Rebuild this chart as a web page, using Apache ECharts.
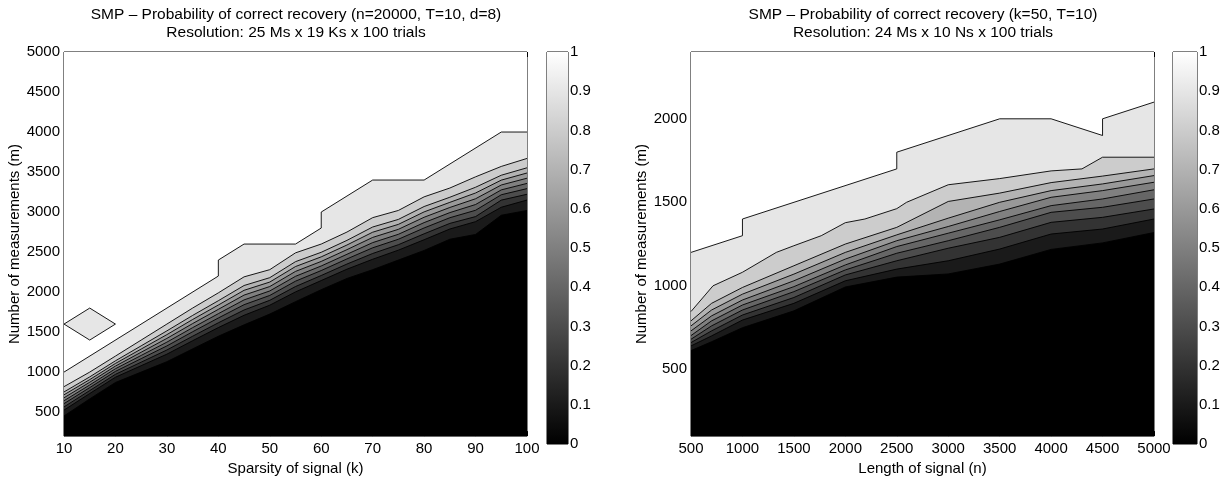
<!DOCTYPE html>
<html>
<head>
<meta charset="utf-8">
<script src="https://cdn.jsdelivr.net/npm/echarts@6/dist/echarts.min.js"></script>
<style>
  html, body { margin: 0; padding: 0; background: #fff; }
  #container { width: 1229px; height: 481px; }
</style>
</head>
<body>
<div id="container"></div>
<script>
// x values of the left sweep, and contour vertices of the right one
var sparsityK = [10, 15, 20, 25, 30, 35, 40, 45, 50, 55, 60, 65, 70, 75, 80, 85, 90, 95, 100];
var rightVertexN = [500, 700, 1000, 1500, 2000, 2500, 3000, 3500, 4000, 4500, 5000];

// contour levels (probability)
var levels = [0.1, 0.2, 0.3, 0.4, 0.5, 0.6, 0.7, 0.8, 0.9];

// left chart: m where the probability crosses each level, one value per k
var leftM01 = [452, 665, 870, 1000, 1130, 1290, 1448, 1590, 1725, 1880, 2030, 2170, 2280, 2400, 2520, 2660, 2720, 2960, 3020];
var leftM02 = [525, 732, 936, 1080, 1224, 1392, 1556, 1710, 1836, 2002, 2144, 2286, 2410, 2524, 2654, 2788, 2880, 3060, 3150];
var leftM03 = [565, 769, 972, 1124, 1276, 1448, 1616, 1776, 1897, 2069, 2207, 2350, 2482, 2592, 2728, 2858, 2943, 3149, 3222];
var leftM04 = [606, 806, 1009, 1168, 1327, 1504, 1676, 1842, 1958, 2136, 2269, 2414, 2553, 2660, 2801, 2929, 3022, 3216, 3293];
var leftM05 = [642, 839, 1042, 1208, 1374, 1555, 1730, 1902, 2014, 2197, 2326, 2472, 2618, 2722, 2868, 2993, 3094, 3277, 3358];
var leftM06 = [679, 873, 1075, 1248, 1421, 1606, 1784, 1962, 2069, 2258, 2383, 2530, 2683, 2784, 2935, 3057, 3166, 3338, 3423];
var leftM07 = [716, 906, 1108, 1288, 1468, 1657, 1838, 2022, 2125, 2319, 2440, 2588, 2748, 2846, 3002, 3121, 3238, 3399, 3488];
var leftM08 = [752, 940, 1141, 1328, 1515, 1708, 1892, 2082, 2180, 2380, 2497, 2646, 2813, 2908, 3069, 3185, 3310, 3460, 3553];
var leftM09 = [818, 1000, 1200, 1400, 1600, 1800, 1990, 2190, 2280, 2490, 2600, 2750, 2930, 3020, 3190, 3300, 3440, 3570, 3670];
// P = 1 contour, vertices (k, m)
var leftTop = [[10, 1000], [40, 2200], [40, 2400], [45, 2600], [55, 2600], [60, 2800], [60, 3000], [70, 3400], [80, 3400], [95, 4000], [100, 4000]];
// small island below 1 inside the white area
var leftIsland = [[10, 1600], [15, 1800], [20, 1600], [15, 1400]];
var leftYTicks = [500, 1000, 1500, 2000, 2500, 3000, 3500, 4000, 4500, 5000];

// right chart: m where the probability crosses each level, one value per vertex n
var rightM01 = [612, 665, 749, 850, 993, 1052, 1071, 1130, 1218, 1257, 1319];
var rightM02 = [640, 700, 795, 895, 1030, 1100, 1150, 1220, 1310, 1340, 1400];
var rightM03 = [660, 730, 825, 930, 1065, 1150, 1225, 1290, 1380, 1410, 1460];
var rightM04 = [680, 760, 855, 965, 1095, 1195, 1270, 1350, 1440, 1470, 1520];
var rightM05 = [702, 790, 885, 995, 1125, 1235, 1315, 1395, 1480, 1520, 1575];
var rightM06 = [730, 820, 915, 1030, 1160, 1270, 1355, 1445, 1530, 1570, 1620];
var rightM07 = [760, 855, 950, 1070, 1200, 1305, 1405, 1500, 1570, 1610, 1660];
var rightM08 = [790, 895, 990, 1120, 1250, 1350, 1505, 1555, 1618, 1657, 1700];
var rightLine09 = [[500, 846], [714, 1000], [1000, 1081], [1329, 1200], [1500, 1240], [1766, 1300], [2000, 1378], [2190, 1400], [2500, 1462], [2595, 1500], [3000, 1605], [3500, 1642], [4000, 1688], [4300, 1700], [4500, 1770], [5000, 1770]];
var rightTop = [[500, 1200], [1000, 1300], [1000, 1400], [2500, 1700], [2500, 1800], [3500, 2000], [4000, 2000], [4500, 1900], [4500, 2000], [5000, 2100]];
var rightYTicks = [500, 1000, 1500, 2000];

var FONT = '"Liberation Sans", Arial, Helvetica, sans-serif';

function pairUp(xs, ms) {
    return xs.map(function (x, i) { return [x, ms[i]]; });
}

function gray(p) {
    var v = Math.round(p * 255);
    return 'rgb(' + v + ',' + v + ',' + v + ')';
}

// filled contours: every line fills up to the top of the axis with its level's gray
function contourSeries(axisIdx, lines) {
    var areas = [], strokes = [];
    lines.forEach(function (ln) {
        areas.push({
            type: 'line', xAxisIndex: axisIdx, yAxisIndex: axisIdx,
            data: ln.data, symbol: 'none', silent: true, z: 2,
            lineStyle: { width: 0 },
            areaStyle: { origin: 'end', color: gray(ln.level), opacity: 1 }
        });
        strokes.push({
            type: 'line', xAxisIndex: axisIdx, yAxisIndex: axisIdx,
            data: ln.data, symbol: 'none', silent: true, z: 3,
            lineStyle: { width: 0.9, color: '#000' }
        });
    });
    return areas.concat(strokes);
}

var leftLines = [leftM01, leftM02, leftM03, leftM04, leftM05, leftM06, leftM07, leftM08, leftM09].map(function (ms, i) {
    return { level: levels[i], data: pairUp(sparsityK, ms) };
});
leftLines.push({ level: 1, data: leftTop });

var rightLines = [rightM01, rightM02, rightM03, rightM04, rightM05, rightM06, rightM07, rightM08].map(function (ms, i) {
    return { level: levels[i], data: pairUp(rightVertexN, ms) };
});
rightLines.push({ level: 0.9, data: rightLine09 });
rightLines.push({ level: 1, data: rightTop });

var tickStyle = { inside: true, length: 5, lineStyle: { color: '#000' } };
var labelStyle = { color: '#000', fontSize: 15, fontFamily: FONT, formatter: function (v) { return String(v); } };
var nameStyle = { color: '#000', fontSize: 15, fontFamily: FONT };

function plotX(grid, min, max, interval, name) {
    return [{
        gridIndex: grid, type: 'value', min: min, max: max, interval: interval,
        axisLine: { show: false }, splitLine: { show: false },
        axisTick: tickStyle, axisLabel: Object.assign({ margin: 5 }, labelStyle),
        name: name, nameLocation: 'middle', nameGap: 22, nameTextStyle: nameStyle
    }, {
        gridIndex: grid, type: 'value', min: min, max: max, interval: interval, position: 'top',
        axisLine: { show: false }, splitLine: { show: false },
        axisTick: tickStyle, axisLabel: { show: false }
    }];
}

function plotY(grid, min, max, ticks) {
    return [{
        gridIndex: grid, type: 'value', min: min, max: max,
        axisLine: { show: false }, splitLine: { show: false },
        axisTick: Object.assign({ customValues: ticks }, tickStyle),
        axisLabel: Object.assign({ customValues: ticks, margin: 4 }, labelStyle),
        name: 'Number of measurements (m)', nameLocation: 'middle', nameGap: 42,
        nameRotate: 90, nameTextStyle: nameStyle
    }, {
        gridIndex: grid, type: 'value', min: min, max: max, position: 'right',
        axisLine: { show: false }, splitLine: { show: false },
        axisTick: Object.assign({ customValues: ticks }, tickStyle),
        axisLabel: { show: false }
    }];
}

function colorbarAxes(grid) {
    return {
        x: { gridIndex: grid, type: 'category', data: [''], show: false },
        y: {
            gridIndex: grid, type: 'value', min: 0, max: 1, interval: 0.1, position: 'right',
            axisLine: { show: false }, splitLine: { show: false },
            axisTick: { inside: true, length: 4, lineStyle: { color: '#000' } },
            axisLabel: Object.assign({}, labelStyle, { margin: 2 })
        }
    };
}

function colorbarSeries(axisIdx) {
    return {
        type: 'bar', xAxisIndex: axisIdx, yAxisIndex: axisIdx, data: [1], barWidth: '100%', silent: true,
        itemStyle: {
            color: new echarts.graphic.LinearGradient(0, 1, 0, 0, [
                { offset: 0, color: '#000' }, { offset: 1, color: '#fff' }
            ])
        }
    };
}

var dom = document.getElementById('container');
var myChart = echarts.init(dom, null, { renderer: 'canvas' });

var cbL = colorbarAxes(2), cbR = colorbarAxes(3);
var xL = plotX(0, 10, 100, 10, 'Sparsity of signal (k)');
var xR = plotX(1, 500, 5000, 500, 'Length of signal (n)');
var yL = plotY(0, 200, 5000, leftYTicks);
var yR = plotY(1, 100, 2400, rightYTicks);

var plotGrid = { show: true, backgroundColor: '#000', borderColor: '#000', borderWidth: 1 };
var titleStyle = { color: '#000', fontSize: 15.5, fontWeight: 'normal', lineHeight: 18, fontFamily: FONT };

var option = {
    animation: false,
    textStyle: { fontFamily: FONT },
    title: [{
        text: 'SMP \u2013 Probability of correct recovery (n=20000, T=10, d=8)\nResolution: 25 Ms x 19 Ks x 100 trials',
        left: 296, top: 6, textAlign: 'center', padding: 0, textStyle: titleStyle
    }, {
        text: 'SMP \u2013 Probability of correct recovery (k=50, T=10)\nResolution: 24 Ms x 10 Ns x 100 trials',
        left: 923, top: 6, textAlign: 'center', padding: 0, textStyle: titleStyle
    }],
    grid: [
        Object.assign({ left: 64, top: 52, width: 463, height: 392 }, plotGrid),
        Object.assign({ left: 691, top: 52, width: 463, height: 392 }, plotGrid),
        { show: true, left: 547, top: 52, width: 21, height: 392, borderColor: '#000', borderWidth: 1 },
        { show: true, left: 1173, top: 52, width: 24, height: 392, borderColor: '#000', borderWidth: 1 }
    ],
    // order: 0 left x, 1 right x, 2/3 colorbars, 4 left top, 5 right top
    xAxis: [xL[0], xR[0], cbL.x, cbR.x, xL[1], xR[1]],
    yAxis: [yL[0], yR[0], cbL.y, cbR.y, yL[1], yR[1]],
    series: contourSeries(0, leftLines).concat(contourSeries(1, rightLines)).concat([
        {
            type: 'custom', xAxisIndex: 0, yAxisIndex: 0, z: 5, silent: true,
            data: [[15, 1600]], encode: { x: 0, y: 1 },
            renderItem: function (params, api) {
                var pts = leftIsland.map(function (p) { return api.coord(p); });
                return {
                    type: 'polygon', shape: { points: pts },
                    style: { fill: gray(0.9), stroke: '#000', lineWidth: 0.9 }
                };
            }
        },
        colorbarSeries(2),
        colorbarSeries(3)
    ])
};

myChart.setOption(option);
</script>
</body>
</html>
